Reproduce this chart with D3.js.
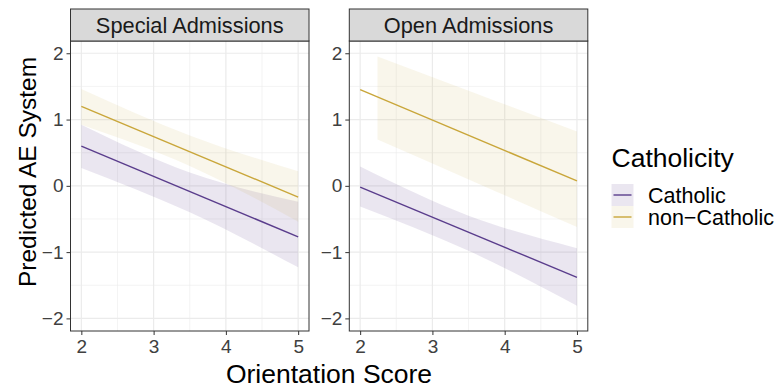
<head>
<style>
    body { margin: 0; background: #fff; }
    text { font-family: 'Liberation Sans', Arial, sans-serif; }
</style>
</head>
<body>
    <div id='chart'></div>
</body>
<script src='https://cdn.jsdelivr.net/npm/d3@7/dist/d3.min.js'></script>
<script>
    var width = 779,
        height = 388;

    // data
    var panels = ['Special Admissions', 'Open Admissions'];
    var groups = ['Catholic', 'non-Catholic'];
    var xTicks = [2, 3, 4, 5];
    var yTicks = [-2, -1, 0, 1, 2];

    var fitX = [2, 5];
    var fitSpecialCatholic = [0.60, -0.77];
    var fitSpecialNon = [1.20, -0.17];
    var fitOpenCatholic = [-0.02, -1.38];
    var fitOpenNon = [1.45, 0.075];

    var bandX = [2, 3.5, 5];
    var bandSpecialCatholicHi = [0.92, 0.20, -0.24];
    var bandSpecialCatholicLo = [0.27, -0.40, -1.23];
    var bandSpecialNonHi = [1.46, 0.76, 0.22];
    var bandSpecialNonLo = [0.92, 0.30, -0.54];
    var bandOpenCatholicHi = [0.29, -0.45, -0.94];
    var bandOpenCatholicLo = [-0.31, -0.98, -1.81];
    var bandOpenNonX = [2.24, 3.62, 5];
    var bandOpenNonHi = [1.95, 1.385, 0.82];
    var bandOpenNonLo = [0.70, 0.04, -0.62];

    var colors = {'Catholic': '#5a3d8c', 'non-Catholic': '#c9a63a'};

    var series = [
        {panel: 0, group: 'Catholic', fit: fitSpecialCatholic, bx: bandX, hi: bandSpecialCatholicHi, lo: bandSpecialCatholicLo},
        {panel: 0, group: 'non-Catholic', fit: fitSpecialNon, bx: bandX, hi: bandSpecialNonHi, lo: bandSpecialNonLo},
        {panel: 1, group: 'Catholic', fit: fitOpenCatholic, bx: bandX, hi: bandOpenCatholicHi, lo: bandOpenCatholicLo},
        {panel: 1, group: 'non-Catholic', fit: fitOpenNon, bx: bandOpenNonX, hi: bandOpenNonHi, lo: bandOpenNonLo}
    ];

    var panelLeft = [70.5, 349.3],
        panelWidth = 238.5,
        stripTop = 9,
        panelTop = 41,
        panelBottom = 331;

    var svg = d3.select('#chart')
        .append('svg')
        .attr('width', width)
        .attr('height', height);

    var x = d3.scaleLinear()
        .domain([1.85, 5.15])
        .range([0, panelWidth]);

    var y = d3.scaleLinear()
        .domain([-2.19, 2.185])
        .range([panelBottom, panelTop]);

    panels.forEach(function(name, p){
        var g = svg.append('g')
            .attr('transform', 'translate(' + panelLeft[p] + ',0)');

        // minor grid
        d3.range(2.5, 5, 1).forEach(function(v){
            g.append('line')
                .attr('x1', x(v)).attr('x2', x(v))
                .attr('y1', panelTop).attr('y2', panelBottom)
                .style('stroke', '#ebebeb').style('stroke-width', 0.6);
        });
        [-1.5, -0.5, 0.5, 1.5].forEach(function(v){
            g.append('line')
                .attr('x1', 0).attr('x2', panelWidth)
                .attr('y1', y(v)).attr('y2', y(v))
                .style('stroke', '#ebebeb').style('stroke-width', 0.6);
        });
        // major grid
        xTicks.forEach(function(v){
            g.append('line')
                .attr('x1', x(v)).attr('x2', x(v))
                .attr('y1', panelTop).attr('y2', panelBottom)
                .style('stroke', '#ebebeb').style('stroke-width', 1.2);
        });
        yTicks.forEach(function(v){
            g.append('line')
                .attr('x1', 0).attr('x2', panelWidth)
                .attr('y1', y(v)).attr('y2', y(v))
                .style('stroke', '#ebebeb').style('stroke-width', 1.2);
        });

        var ps = series.filter(function(s){ return s.panel == p; });

        var area = d3.area()
            .curve(d3.curveNatural)
            .x(function(d){ return x(d[0]); })
            .y0(function(d){ return y(d[1]); })
            .y1(function(d){ return y(d[2]); });

        ps.forEach(function(s){
            var pts = s.bx.map(function(v, i){ return [v, s.lo[i], s.hi[i]]; });
            g.append('path')
                .attr('d', area(pts))
                .style('fill', colors[s.group])
                .style('fill-opacity', s.group == 'Catholic' ? 0.13 : 0.1);
        });

        var line = d3.line()
            .x(function(d){ return x(d[0]); })
            .y(function(d){ return y(d[1]); });

        ps.forEach(function(s){
            g.append('path')
                .attr('d', line(fitX.map(function(v, i){ return [v, s.fit[i]]; })))
                .style('fill', 'none')
                .style('stroke', colors[s.group])
                .style('stroke-width', 1.4);
        });

        // panel border
        g.append('rect')
            .attr('x', 0).attr('y', panelTop)
            .attr('width', panelWidth).attr('height', panelBottom - panelTop)
            .style('fill', 'none').style('stroke', '#333').style('stroke-width', 1);

        // strip
        g.append('rect')
            .attr('x', 0).attr('y', stripTop)
            .attr('width', panelWidth).attr('height', panelTop - stripTop)
            .style('fill', '#d9d9d9').style('stroke', '#333').style('stroke-width', 1);

        g.append('text')
            .attr('x', panelWidth / 2).attr('y', 32.5)
            .attr('text-anchor', 'middle')
            .style('font-size', '21.8px').style('fill', '#1a1a1a')
            .text(name);

        // x axis
        var xAxis = d3.axisBottom(x)
            .tickValues(xTicks)
            .tickSize(4)
            .tickPadding(5)
            .tickFormat(d3.format('d'));

        var xa = g.append('g')
            .attr('transform', 'translate(0,' + panelBottom + ')')
            .call(xAxis);
        xa.select('.domain').remove();
        xa.selectAll('line').style('stroke', '#333');
        xa.selectAll('text')
            .style('font-size', '19px').style('fill', '#404040')
            .style('font-family', "'Liberation Sans', Arial, sans-serif");

        // y axis
        var yAxis = d3.axisLeft(y)
            .tickValues(yTicks)
            .tickSize(4)
            .tickPadding(3)
            .tickFormat(function(d){ return d < 0 ? '\u2212' + Math.abs(d) : d; });

        var ya = g.append('g')
            .call(yAxis);
        ya.select('.domain').remove();
        ya.selectAll('line').style('stroke', '#333');
        ya.selectAll('text')
            .style('font-size', '19px').style('fill', '#404040')
            .style('font-family', "'Liberation Sans', Arial, sans-serif");
    });

    // axis titles
    svg.append('text')
        .attr('x', 329).attr('y', 383)
        .attr('text-anchor', 'middle')
        .style('font-size', '26.5px').style('fill', '#000')
        .text('Orientation Score');

    svg.append('text')
        .attr('transform', 'translate(36,172) rotate(-90)')
        .attr('text-anchor', 'middle')
        .style('font-size', '24.5px').style('fill', '#000')
        .text('Predicted AE System');

    // legend
    var legend = svg.append('g')
        .attr('transform', 'translate(611.5,0)');

    legend.append('text')
        .attr('x', 0).attr('y', 166.5)
        .style('font-size', '26.5px').style('fill', '#000')
        .text('Catholicity');

    groups.forEach(function(gname, i){
        var ky = 184 + i * 22;
        legend.append('rect')
            .attr('x', 0).attr('y', ky)
            .attr('width', 22).attr('height', 22)
            .style('fill', colors[gname])
            .style('fill-opacity', gname == 'Catholic' ? 0.13 : 0.1);
        legend.append('line')
            .attr('x1', 2).attr('x2', 20)
            .attr('y1', ky + 11).attr('y2', ky + 11)
            .style('stroke', colors[gname]).style('stroke-width', 1.4);
        legend.append('text')
            .attr('x', 36.5).attr('y', ky + 18.5)
            .style('font-size', '21.5px').style('fill', '#000')
            .text(gname == 'Catholic' ? 'Catholic' : 'non\u2212Catholic');
    });
</script>
